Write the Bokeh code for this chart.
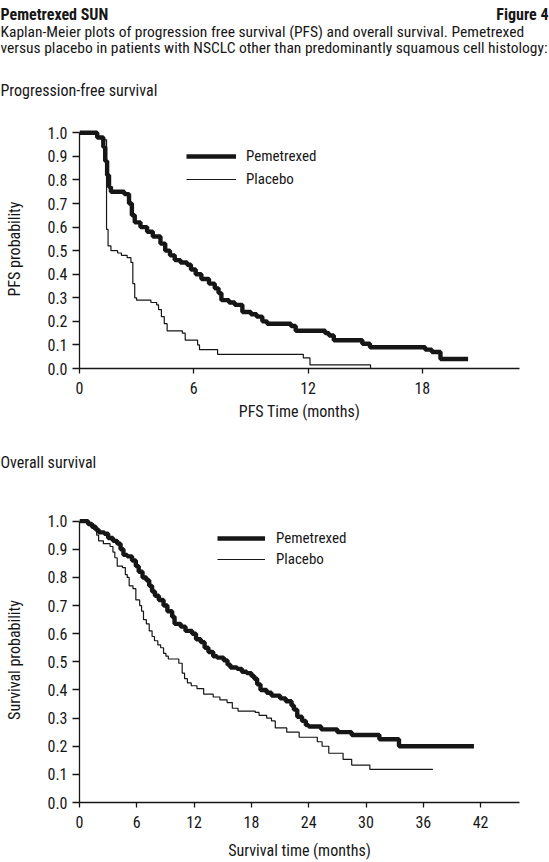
from bokeh.plotting import figure
from bokeh.models import Label, Legend, LegendItem, FixedTicker, PrintfTickFormatter, Range1d
from bokeh.layouts import column
from bokeh.embed import file_html
from bokeh.resources import INLINE

# ---------------- data ----------------
pfs_pem_t = [0, 0.93, 1.25, 1.35, 1.45, 1.55, 1.65, 2.35, 2.6, 2.75, 2.9, 3.2, 3.55, 3.85, 4.25, 4.5, 4.75,
             5.0, 5.3, 5.65, 5.85, 6.1, 6.4, 6.8, 7.1, 7.3, 7.45, 7.85, 8.15, 8.55, 9.0, 9.3, 9.6, 9.85,
             11.1, 11.35, 12.9, 13.1, 13.35, 14.85, 15.25, 18.15, 18.5, 18.95, 20.4]
pfs_pem_s = [1.0, 0.98, 0.94, 0.88, 0.82, 0.77, 0.75, 0.74, 0.70, 0.65, 0.62, 0.60, 0.58, 0.56, 0.53, 0.50, 0.48,
             0.46, 0.45, 0.44, 0.42, 0.40, 0.38, 0.36, 0.34, 0.32, 0.29, 0.28, 0.27, 0.24, 0.23, 0.22, 0.20, 0.19,
             0.18, 0.16, 0.15, 0.14, 0.12, 0.105, 0.09, 0.08, 0.07, 0.04, 0.04]

pfs_pla_t = [0, 0.93, 1.2, 1.42, 1.5, 1.65, 2.0, 2.2, 2.5, 2.7, 2.8, 2.9, 3.0, 3.75, 4.05, 4.15, 4.3, 4.45,
             4.6, 5.4, 5.55, 6.2, 6.3, 7.25, 11.75, 12.1, 15.28]
pfs_pla_s = [1.0, 0.98, 0.97, 0.59, 0.52, 0.50, 0.49, 0.48, 0.47, 0.45, 0.36, 0.30, 0.29, 0.28, 0.27, 0.25, 0.22, 0.19,
             0.16, 0.15, 0.12, 0.10, 0.08, 0.06, 0.045, 0.015, 0.0]

os_pem_t = [0, 0.9, 1.3, 1.7, 2.0, 2.6, 3.0, 3.5, 3.95, 4.3, 4.6, 5.0, 5.5, 5.9, 6.2, 6.6, 7.0, 7.3, 7.6, 7.9,
            8.3, 8.8, 9.2, 9.7, 9.95, 10.6, 11.1, 11.8, 12.2, 12.7, 13.1, 13.5, 14.0, 14.4, 15.1, 15.5, 15.8,
            16.5, 17.0, 17.5, 18.0, 18.3, 18.6, 18.95, 19.6, 20.1, 21.0, 21.6, 22.2, 22.45, 22.8, 23.3, 23.7,
            24.0, 25.3, 27.0, 28.5, 31.4, 33.45, 41.3]
os_pem_s = [1.0, 0.99, 0.98, 0.97, 0.96, 0.955, 0.94, 0.93, 0.92, 0.90, 0.88, 0.875, 0.86, 0.84, 0.82, 0.80, 0.79,
            0.77, 0.75, 0.735, 0.72, 0.70, 0.68, 0.66, 0.635, 0.625, 0.61, 0.60, 0.58, 0.57, 0.55, 0.535, 0.52,
            0.515, 0.505, 0.49, 0.48, 0.475, 0.465, 0.46, 0.45, 0.44, 0.42, 0.40, 0.39, 0.38, 0.37, 0.36, 0.345,
            0.33, 0.305, 0.29, 0.275, 0.27, 0.26, 0.25, 0.24, 0.225, 0.20, 0.20]

os_pla_t = [0, 1.0, 1.5, 1.8, 2.0, 2.5, 3.2, 3.5, 3.7, 3.95, 4.5, 4.8, 5.0, 5.2, 5.6, 5.9, 6.3, 6.5, 6.7, 7.0,
            7.3, 7.6, 7.85, 8.2, 8.5, 8.8, 9.05, 9.3, 10.4, 10.75, 11.0, 11.3, 11.7, 12.3, 13.0, 14.0, 14.7,
            15.45, 16.0, 16.6, 18.4, 18.8, 19.6, 20.1, 20.5, 21.7, 23.0, 24.9, 25.4, 26.1, 27.6, 28.5, 30.4, 37.0]
os_pla_s = [1.0, 0.99, 0.97, 0.95, 0.93, 0.92, 0.91, 0.89, 0.87, 0.84, 0.835, 0.81, 0.80, 0.77, 0.76, 0.72, 0.70,
            0.68, 0.65, 0.635, 0.61, 0.59, 0.575, 0.56, 0.55, 0.53, 0.52, 0.51, 0.495, 0.46, 0.44, 0.425, 0.415,
            0.405, 0.385, 0.375, 0.365, 0.355, 0.335, 0.325, 0.32, 0.31, 0.30, 0.29, 0.265, 0.25, 0.232, 0.216,
            0.20, 0.175, 0.153, 0.133, 0.118, 0.118]

y_ticks = [0.0, 0.1, 0.2, 0.3, 0.4, 0.5, 0.6, 0.7, 0.8, 0.9, 1.0]
pfs_x_ticks = [0, 6, 12, 18]
os_x_ticks = [0, 6, 12, 18, 24, 30, 36, 42]
series_names = ["Pemetrexed", "Placebo"]

header_title = "Pemetrexed SUN"
header_fig = "Figure 4"
header_lines = ["Kaplan-Meier plots of progression free survival (PFS) and overall survival. Pemetrexed",
                "versus placebo in patients with NSCLC other than predominantly squamous cell histology:"]
pfs_heading = "Progression-free survival"
os_heading = "Overall survival"

# ---------------- style ----------------
FONT = "'Roboto Condensed', 'DejaVu Sans Condensed', 'Liberation Sans Narrow', 'Liberation Sans'"
FS = "16px"
INK = "#161616"
W = 549


def text_fig(height):
    # blank canvas whose data units are page pixels (y grows downward)
    p = figure(width=W, height=height, output_backend="svg", toolbar_location=None,
               x_range=Range1d(0, W), y_range=Range1d(height, 0),
               min_border=0, x_axis_type=None, y_axis_type=None)
    p.outline_line_color = None
    p.grid.visible = False
    try:
        p.frame_align = False
    except Exception:
        pass
    return p


def lab(p, x, y, text, **kw):
    opts = dict(text_font=FONT, text_font_size=FS, text_color=INK, text_baseline="alphabetic")
    opts.update(kw)
    p.add_layout(Label(x=x, y=y, text=text, **opts))


def make_fig(height, top, bottom, xmax, yend, xticks, xlabel, ylabel, xstand, ystand):
    p = figure(width=W, height=height, output_backend="svg", toolbar_location=None,
               x_range=Range1d(0, xmax), y_range=Range1d(0, yend),
               min_border_left=79, min_border_right=30, min_border_top=top, min_border_bottom=bottom,
               x_axis_label=xlabel, y_axis_label=ylabel)
    p.outline_line_color = None
    p.grid.visible = False
    for ax in (p.xaxis[0], p.yaxis[0]):
        ax.axis_line_color = INK
        ax.axis_line_width = 1.3
        ax.major_tick_line_color = INK
        ax.major_tick_line_width = 1.3
        ax.major_tick_in = 0
        ax.minor_tick_line_color = None
        ax.major_label_text_font = FONT
        ax.major_label_text_font_size = FS
        ax.major_label_text_color = INK
        ax.axis_label_text_font = FONT
        ax.axis_label_text_font_size = FS
        ax.axis_label_text_font_style = "normal"
        ax.axis_label_text_color = INK
    p.xaxis[0].ticker = FixedTicker(ticks=xticks)
    p.xaxis[0].major_tick_out = 5
    p.xaxis[0].major_label_standoff = 8
    p.xaxis[0].axis_label_standoff = xstand
    p.yaxis[0].ticker = FixedTicker(ticks=y_ticks)
    p.yaxis[0].formatter = PrintfTickFormatter(format="%.1f")
    p.yaxis[0].major_tick_out = 7
    p.yaxis[0].major_label_standoff = 5
    p.yaxis[0].axis_label_standoff = ystand
    p.yaxis[0].bounds = (0, 1)
    return p


def add_legend(p, rs, lx, ly, spacing, gw, standoff):
    leg = Legend(items=[LegendItem(label=n, renderers=[r]) for n, r in zip(series_names, rs)],
                 location=(lx, ly), padding=0, margin=0, spacing=spacing,
                 glyph_width=gw, glyph_height=20, label_height=20, label_standoff=standoff,
                 label_text_font=FONT, label_text_font_size="15px", label_text_color=INK,
                 border_line_alpha=0, background_fill_alpha=0)
    p.add_layout(leg)


# ---------------- header ----------------
hdr = text_fig(100)
lab(hdr, 0, 13.5, header_title, text_font_style="bold")
lab(hdr, 548, 13.5, header_fig, text_font_style="bold", text_align="right")
lab(hdr, 0, 31.5, header_lines[0], text_font_size="15.5px")
lab(hdr, 0, 47.5, header_lines[1], text_font_size="15.5px")
lab(hdr, 0, 90, pfs_heading)

# ---------------- PFS ----------------
p1 = make_fig(330, 29, 62, 23.1, 1.014, pfs_x_ticks, "PFS Time (months)", "PFS probability", 5, 20)
r1 = p1.step(x=pfs_pem_t, y=pfs_pem_s, mode="after", line_width=4.4, line_color=INK)
r2 = p1.step(x=pfs_pla_t, y=pfs_pla_s, mode="after", line_width=1.2, line_color=INK)
add_legend(p1, [r1, r2], 107, 179.5, 3, 50, 10)

# ---------------- middle heading ----------------
mid = text_fig(70)
lab(mid, 0, 31.5, os_heading)

# ---------------- OS ----------------
p2 = make_fig(362, 17, 59, 46.07, 1.013, os_x_ticks, "Survival time (months)", "Survival probability", 10, 20)
r3 = p2.step(x=os_pem_t, y=os_pem_s, mode="after", line_width=4.4, line_color=INK)
r4 = p2.step(x=os_pla_t, y=os_pla_s, mode="after", line_width=1.2, line_color=INK)
add_legend(p2, [r3, r4], 138, 233, 1, 48, 11)

layout = column(hdr, p1, mid, p2, spacing=0)
open("out.html", "w").write(file_html(layout, INLINE))
